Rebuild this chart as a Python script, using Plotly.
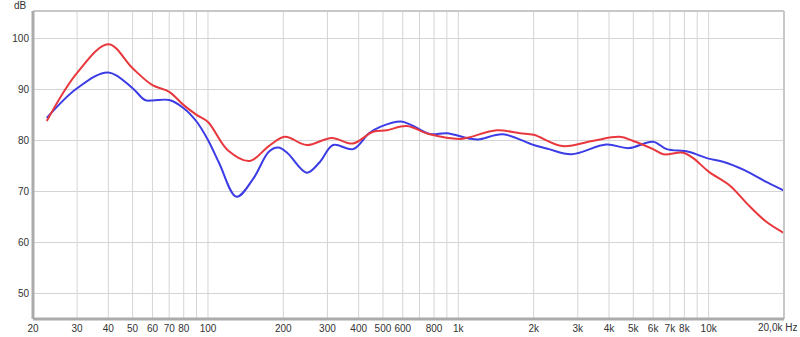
import plotly.graph_objects as go

# Frequencies (Hz) and levels (dB)
red_freq = [22.7, 30, 40, 50, 60, 70, 80, 90, 100, 120, 147, 175, 203, 248, 312, 379, 456, 518, 622, 770,
            1016, 1100, 1426, 1766, 2000, 2607, 3434, 4406, 5000, 6000, 6600, 7900, 8700, 10000, 12200, 14200, 17000, 20000]
red_db = [83.8, 93.2, 98.8, 94.1, 90.8, 89.5, 86.9, 85.0, 83.6, 78.1, 76.0, 78.9, 80.7, 79.1, 80.5, 79.4, 81.7, 82.0, 82.8, 81.2,
          80.3, 80.6, 82.0, 81.4, 81.1, 78.9, 79.9, 80.7, 79.9, 78.3, 77.3, 77.6, 76.5, 73.9, 71.1, 67.7, 64.1, 61.9]

blue_freq = [22.7, 30, 40, 50, 56, 60, 70, 80, 90, 100, 111, 130, 152, 175, 191, 208, 248, 280, 316, 380, 440, 490,
             590, 650, 770, 900, 1100, 1200, 1510, 2000, 2300, 2830, 3900, 4800, 6000, 6800, 8300, 9900, 11500, 13900, 17000, 20000]
blue_db = [84.4, 90.2, 93.3, 90.2, 87.9, 87.8, 87.9, 86.3, 83.7, 80.1, 75.5, 69.0, 72.6, 77.8, 78.6, 77.5, 73.7, 75.8, 79.1, 78.3, 81.4, 82.7,
           83.7, 83.0, 81.25, 81.4, 80.4, 80.2, 81.2, 79.1, 78.3, 77.3, 79.2, 78.5, 79.75, 78.3, 77.8, 76.5, 75.8, 74.2, 71.9, 70.2]

x_tick_vals = [20, 30, 40, 50, 60, 70, 80, 100, 200, 300, 400, 500, 600, 800, 1000,
               2000, 3000, 4000, 5000, 6000, 7000, 8000, 10000]
x_tick_text = ["20", "30", "40", "50", "60", "70", "80", "100", "200", "300", "400", "500", "600", "800", "1k",
               "2k", "3k", "4k", "5k", "6k", "7k", "8k", "10k"]
x_last_label = "20,0k Hz"
x_grid = [20, 30, 40, 50, 60, 70, 80, 90, 100, 200, 300, 400, 500, 600, 700, 800, 900, 1000,
          2000, 3000, 4000, 5000, 6000, 7000, 8000, 9000, 10000, 20000]
y_tick_vals = [50, 60, 70, 80, 90, 100]

FONT = "Liberation Sans, Arial"

fig = go.Figure()

for g in x_grid:
    fig.add_shape(type="line", xref="x", yref="paper", x0=g, x1=g, y0=0, y1=1,
                  line=dict(color="#d4d4d4", width=1), layer="below")

fig.add_trace(go.Scatter(x=blue_freq, y=blue_db, mode="lines",
                         line=dict(color="#3c3ce6", width=2, shape="spline", smoothing=1.0),
                         hoverinfo="skip"))
fig.add_trace(go.Scatter(x=red_freq, y=red_db, mode="lines",
                         line=dict(color="#e8383e", width=2, shape="spline", smoothing=1.0),
                         hoverinfo="skip"))

# frame
fig.add_shape(type="line", xref="paper", yref="paper", x0=0, x1=1, y0=1, y1=1,
              line=dict(color="#c8c8c8", width=2))
fig.add_shape(type="line", xref="paper", yref="paper", x0=1, x1=1, y0=0, y1=1,
              line=dict(color="#c8c8c8", width=2))
fig.add_shape(type="line", xref="paper", yref="paper", x0=0, x1=0, y0=0, y1=1,
              line=dict(color="#ababab", width=3))
fig.add_shape(type="line", xref="paper", yref="paper", x0=0, x1=1, y0=0, y1=0,
              line=dict(color="#ababab", width=3))

fig.add_annotation(text="dB", xref="paper", yref="paper", x=-0.005, y=1.0, xanchor="right", yanchor="bottom",
                   showarrow=False, font=dict(family=FONT, size=10, color="#333333"), yshift=-2)
fig.add_annotation(text=x_last_label, xref="paper", yref="paper", x=1.02, y=0, xanchor="right", yanchor="top",
                   showarrow=False, font=dict(family=FONT, size=10, color="#333333"), yshift=-1)

fig.update_layout(
    width=800, height=337,
    margin=dict(l=33, r=16, t=11, b=18, autoexpand=False),
    paper_bgcolor="white", plot_bgcolor="white",
    showlegend=False,
    font=dict(family=FONT, size=10, color="#333333"),
    xaxis=dict(type="log", range=[1.30103, 4.30103], tickvals=x_tick_vals, ticktext=x_tick_text,
               showgrid=False, zeroline=False, ticks="", showline=False, ticklabelstandoff=2,
               automargin=False),
    yaxis=dict(range=[45.1, 105.3], tickvals=y_tick_vals, showgrid=True, gridcolor="#d4d4d4",
               gridwidth=1, zeroline=False, ticks="", showline=False, ticklabelstandoff=3,
               automargin=False),
)

fig.write_html("out.html")
